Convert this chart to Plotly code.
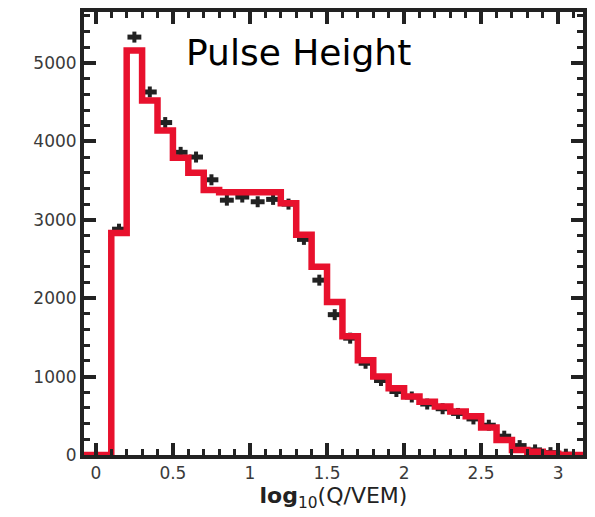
import plotly.graph_objects as go

# Simulated histogram (red): left bin edges and counts, width 0.1
sim_left_edges = [-0.1, 0.0, 0.1, 0.2, 0.3, 0.4, 0.5, 0.6, 0.7, 0.8, 0.9, 1.0,
                  1.1, 1.2, 1.3, 1.4, 1.5, 1.6, 1.7, 1.8, 1.9, 2.0, 2.1, 2.2,
                  2.3, 2.4, 2.5, 2.6, 2.7, 2.8, 2.9, 3.0, 3.1, 3.2]
sim_counts = [0, 0, 2830, 5160, 4520, 4140, 3790, 3600, 3380, 3350, 3350, 3350,
              3350, 3210, 2810, 2400, 1950, 1515, 1210, 1000, 850, 745, 680, 620,
              555, 495, 350, 190, 65, 40, 15, 0, 0, 0]
sim_last_edge = 3.3

# Measured data (black crosses): bin centres and counts
data_x = [0.15, 0.25, 0.35, 0.45, 0.55, 0.65, 0.75, 0.85, 0.95, 1.05, 1.15, 1.25,
          1.35, 1.45, 1.55, 1.65, 1.75, 1.85, 1.95, 2.05, 2.15, 2.25, 2.35, 2.45,
          2.55, 2.65, 2.75, 2.85, 2.95, 3.05]
data_y = [2880, 5330, 4630, 4240, 3860, 3800, 3510, 3250, 3290, 3230, 3260, 3200,
          2750, 2230, 1790, 1490, 1170, 950, 810, 740, 650, 590, 530, 460,
          380, 240, 120, 65, 30, 10]

x_ticks = [0, 0.5, 1, 1.5, 2, 2.5, 3]
y_ticks = [0, 1000, 2000, 3000, 4000, 5000]

fig = go.Figure()

fig.add_trace(go.Scatter(
    x=data_x, y=data_y, mode="markers",
    marker=dict(size=1, color="#222222"),
    error_x=dict(type="constant", value=0.045, thickness=5, width=0, color="#222222"),
    error_y=dict(type="constant", value=70, thickness=4, width=0, color="#222222"),
    showlegend=False, hoverinfo="skip",
))

fig.add_trace(go.Scatter(
    x=sim_left_edges + [sim_last_edge],
    y=sim_counts + [sim_counts[-1]],
    mode="lines", line=dict(shape="hv", color="#e8112d", width=6.5),
    showlegend=False, hoverinfo="skip",
))

tickfont = dict(family="DejaVu Sans", size=17, color="#3a3a3a")
axis_common = dict(
    showline=True, linewidth=4, linecolor="#222222", mirror="ticks",
    ticks="inside", ticklen=12, tickwidth=4, tickcolor="#222222",
    showgrid=False, zeroline=False, tickfont=tickfont,
)

fig.update_xaxes(
    range=[-0.077, 3.161], tickvals=x_ticks,
    minor=dict(dtick=0.1, tick0=0, ticks="inside", ticklen=6, tickwidth=3, tickcolor="#222222"),
    title=dict(text="<b>log</b><sub>10</sub>(Q/VEM)",
               font=dict(family="DejaVu Sans", size=22, color="#222222"), standoff=5),
    **axis_common,
)
fig.update_yaxes(
    range=[0, 5650], tickvals=y_ticks, tickformat="d",
    minor=dict(dtick=200, tick0=0, ticks="inside", ticklen=6, tickwidth=3, tickcolor="#222222"),
    **axis_common,
)

fig.add_annotation(
    x=0.57, y=5130, xref="x", yref="y", text="Pulse Height", showarrow=False,
    xanchor="left", yanchor="middle",
    font=dict(family="DejaVu Sans", size=36, color="#000000"),
)

fig.update_layout(
    width=595, height=517,
    margin=dict(l=84, r=9, t=8, b=62),
    plot_bgcolor="white", paper_bgcolor="white",
)

fig.write_html("out.html")
